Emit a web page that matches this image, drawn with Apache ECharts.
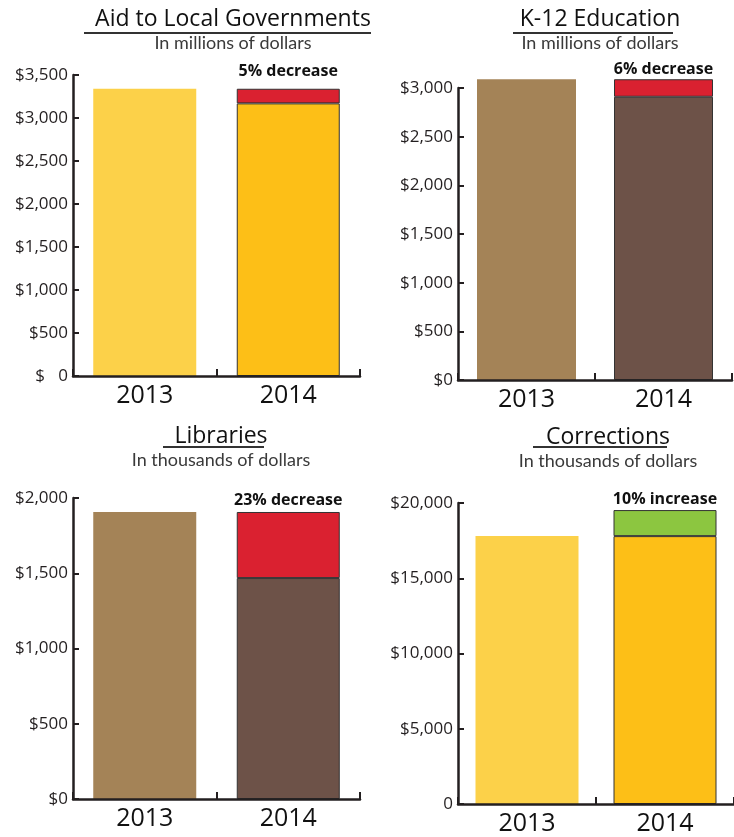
<!DOCTYPE html>
<html>
<head>
<meta charset="utf-8">
<script src="https://cdn.jsdelivr.net/npm/echarts@6/dist/echarts.min.js"></script>
<style>
  html, body { margin: 0; padding: 0; background: #ffffff; }
  #chart { width: 734px; height: 837px; }
</style>
</head>
<body>
<div id="chart"></div>
<script>
// ---- Data ----
const categories = ['2013', '2014'];

const panelTitles = ['Aid to Local Governments', 'K-12 Education', 'Libraries', 'Corrections'];
const panelUnits = ['In millions of dollars', 'In millions of dollars', 'In thousands of dollars', 'In thousands of dollars'];

const aidValues = [3340, 3170];
const k12Values = [3090, 2910];
const libraryValues = [1907, 1468];
const correctionsValues = [17800, 19530];

const changeLabels = ['5% decrease', '6% decrease', '23% decrease', '10% increase'];

const aidTicks = ['$   0', '$500', '$1,000', '$1,500', '$2,000', '$2,500', '$3,000', '$3,500'];
const k12Ticks = ['$0', '$500', '$1,000', '$1,500', '$2,000', '$2,500', '$3,000'];
const libraryTicks = ['$0', '$500', '$1,000', '$1,500', '$2,000'];
const correctionsTicks = ['0', '$5,000', '$10,000', '$15,000', '$20,000'];

// ---- Styling ----
const INK = '#231F20';
const YELLOW_13 = '#FCD149';
const YELLOW_14 = '#FDBF17';
const TAN_13 = '#A48357';
const BROWN_14 = '#6D5248';
const RED = '#DA2130';
const GREEN = '#8CC640';

const panels = [
  { values: aidValues, ticks: aidTicks, max: 3500, interval: 500,
    grid: { left: 73, top: 75, width: 287, height: 301 }, barWidth: 103,
    c13: YELLOW_13, c14: YELLOW_14, labelDist: 9,
    title: { x: 228, y: 3 }, under: [84, 371, 33] },
  { values: k12Values, ticks: k12Ticks, max: 3000, interval: 500,
    grid: { left: 458, top: 88, width: 274, height: 292 }, barWidth: 99,
    c13: TAN_13, c14: BROWN_14, labelDist: 2,
    title: { x: 595, y: 3 }, under: [513, 673, 33] },
  { values: libraryValues, ticks: libraryTicks, max: 2000, interval: 500,
    grid: { left: 73, top: 498, width: 287, height: 301 }, barWidth: 103,
    c13: TAN_13, c14: BROWN_14, labelDist: 4,
    title: { x: 216, y: 420 }, under: [163, 264, 447] },
  { values: correctionsValues, ticks: correctionsTicks, max: 20000, interval: 5000,
    grid: { left: 458, top: 503, width: 286, height: 301 }, barWidth: 103,
    c13: YELLOW_13, c14: YELLOW_14, labelDist: 3,
    title: { x: 603, y: 421 }, under: [533, 667, 447] }
];

const grid = [], xAxis = [], yAxis = [], series = [], title = [], graphic = [];

panels.forEach((p, i) => {
  grid.push(p.grid);
  title.push({
    text: panelTitles[i],
    subtext: panelUnits[i],
    left: p.title.x,
    top: p.title.y,
    textAlign: 'center',
    itemGap: 3,
    textStyle: { fontFamily: 'Open Sans', fontSize: 23, fontWeight: 'normal', color: '#111' },
    subtextStyle: { fontFamily: 'Lato', fontSize: 18, color: '#3a3a3a' }
  });
  graphic.push({
    type: 'line', silent: true,
    shape: { x1: p.under[0], y1: p.under[2], x2: p.under[1], y2: p.under[2] },
    style: { stroke: '#333', lineWidth: 2 }
  });
  xAxis.push({
    type: 'category', gridIndex: i, data: categories, boundaryGap: true, z: 5,
    axisLine: { show: true, lineStyle: { color: INK, width: 2.5 } },
    axisTick: { show: true, inside: true, length: 7, lineStyle: { color: INK, width: 2 } },
    axisLabel: { fontFamily: 'Open Sans', fontSize: 25, color: '#111', margin: 7 }
  });
  yAxis.push({
    type: 'value', gridIndex: i, min: 0, max: p.max, interval: p.interval, z: 5,
    splitLine: { show: false },
    axisLine: { show: true, lineStyle: { color: INK, width: 2.5 } },
    axisTick: { show: true, inside: true, length: 6, lineStyle: { color: INK, width: 2 } },
    axisLabel: {
      fontFamily: 'Open Sans', fontSize: 17, color: INK, margin: 5,
      formatter: (v) => p.ticks[Math.round(v / p.interval)]
    }
  });
  const v13 = p.values[0], v14 = p.values[1];
  const increase = v14 > v13;
  const base14 = Math.min(v13, v14);
  const delta = Math.abs(v14 - v13);
  const border = { borderColor: '#333', borderWidth: 1 };
  series.push({
    type: 'bar', xAxisIndex: i, yAxisIndex: i, stack: 's' + i, clip: false,
    barWidth: p.barWidth,
    data: [
      { value: v13, itemStyle: { color: p.c13 } },
      { value: base14, itemStyle: Object.assign({ color: p.c14 }, border) }
    ]
  });
  series.push({
    type: 'bar', xAxisIndex: i, yAxisIndex: i, stack: 's' + i, clip: false,
    barWidth: p.barWidth,
    data: [
      null,
      {
        value: delta,
        itemStyle: Object.assign({ color: increase ? GREEN : RED }, border),
        label: {
          show: true, position: 'top', distance: p.labelDist,
          formatter: changeLabels[i],
          fontFamily: 'Open Sans', fontWeight: 'bold', fontSize: 16, color: '#111'
        }
      }
    ]
  });
});

const chart = echarts.init(document.getElementById('chart'), null, { renderer: 'canvas' });
chart.setOption({
  animation: false,
  backgroundColor: '#ffffff',
  title, grid, xAxis, yAxis, series, graphic
});
</script>
</body>
</html>
